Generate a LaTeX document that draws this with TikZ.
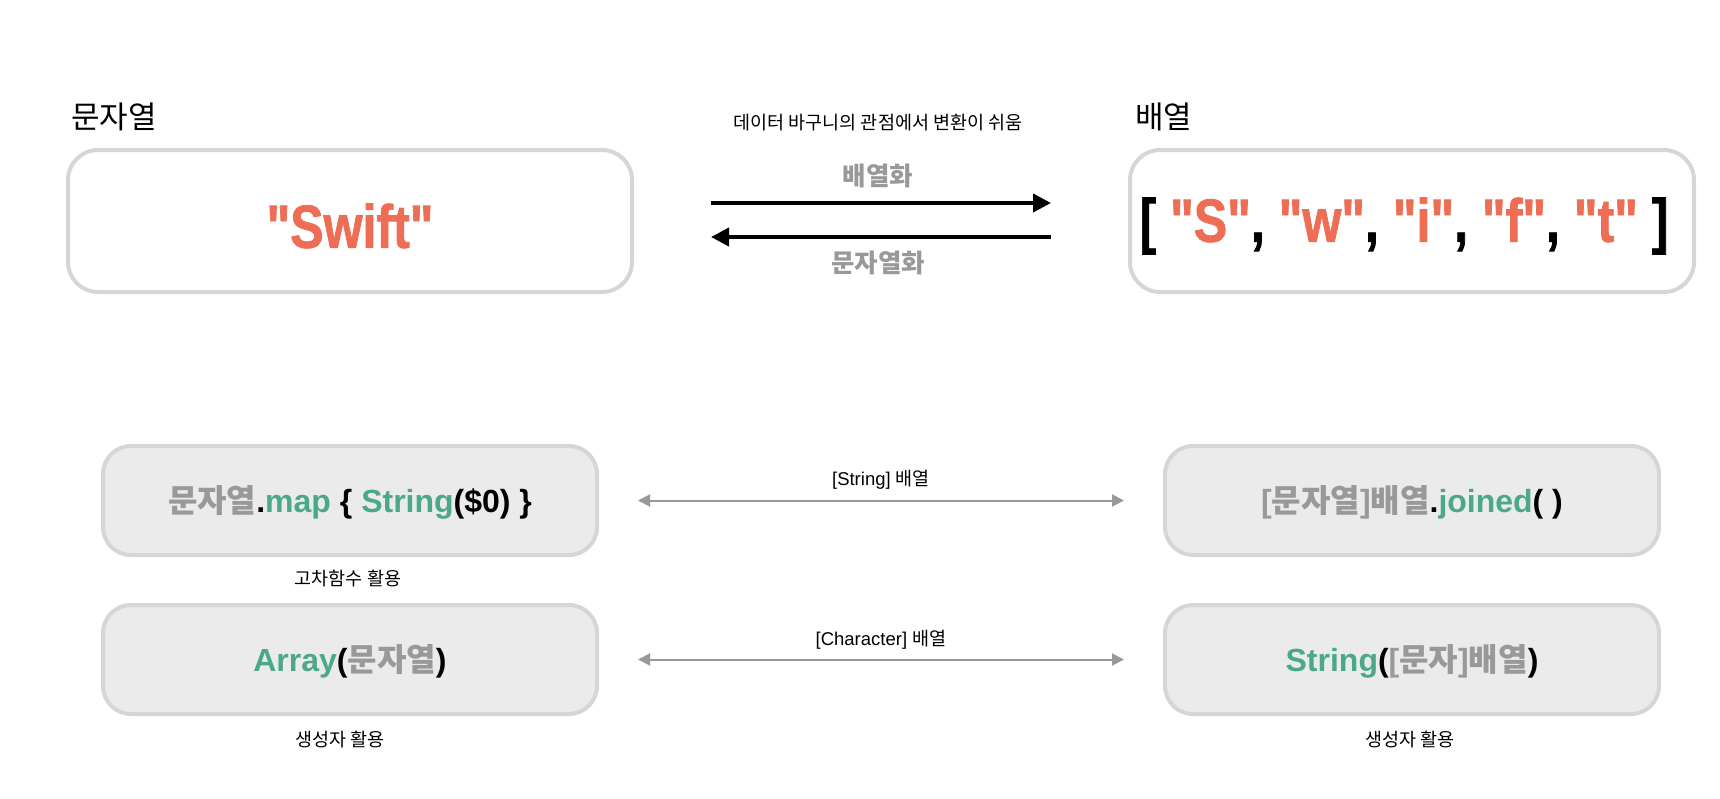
\documentclass[tikz,border=0pt]{standalone}
\usepackage{fontspec}
\setmainfont{Liberation Sans}
\newfontfamily\kr{Noto Sans CJK KR}
\newfontfamily\condfont[FakeStretch=0.82,FakeBold=1.2]{Liberation Sans Bold}
\usetikzlibrary{arrows.meta}
\definecolor{orng}{HTML}{EE6D55}
\definecolor{grn}{HTML}{4BA98A}
\definecolor{txtgray}{HTML}{999999}
\definecolor{bordc}{HTML}{D6D6D6}
\definecolor{boxfill}{HTML}{EBEBEB}
\definecolor{arrgray}{HTML}{999999}
\begin{document}
\begin{tikzpicture}[x=1pt,y=-1pt,
  topbox/.style={draw=bordc,line width=4pt,rounded corners=30pt,minimum width=564pt,minimum height=142pt,fill=white,inner sep=0pt},
  lowbox/.style={draw=bordc,line width=4pt,rounded corners=28pt,minimum width=494pt,minimum height=109pt,fill=boxfill,inner sep=0pt},
  bigtext/.style={font=\condfont\fontsize{61}{70}\selectfont},
  codetext/.style={font=\bfseries\fontsize{32}{38}\selectfont},
  toplabel/.style={font=\kr\fontsize{31}{36}\selectfont,anchor=west,inner sep=0pt},
  smalllabel/.style={font=\fontsize{18.5}{22}\selectfont,inner sep=0pt},
  krsmall/.style={font=\kr\fontsize{18.5}{22}\selectfont,inner sep=0pt},
  arrlabel/.style={font=\kr\bfseries\fontsize{25.5}{30}\selectfont,text=txtgray,inner sep=0pt},
  blackarrow/.style={line width=4pt,-{Triangle[length=18pt,width=18pt]},shorten <=77pt,shorten >=77pt},
  grayarrow/.style={draw=arrgray,line width=2pt,{Triangle[length=12pt,width=12pt]}-{Triangle[length=12pt,width=12pt]},shorten <=39pt,shorten >=39pt}
]
\useasboundingbox (0,0) rectangle (1720,798);

% top labels
\node[toplabel] (lstr) at (71,117) {문자열};
\node[toplabel] (larr) at (1135,117) {배열};

% top boxes
\node[topbox] (s) at (350,221) {};
\node[bigtext,text=orng] (swift) at (350,226) {"Swift"};
\node[topbox] (a) at (1412,221) {};
\node[bigtext] (arr) at (1404,226) {[ \textcolor{orng}{"S"}, \textcolor{orng}{"w"}, \textcolor{orng}{"i"}, \textcolor{orng}{"f"}, \textcolor{orng}{"t"} ]};

% middle
\node[krsmall] (hdr) at (878,123) {데이터 바구니의 관점에서 변환이 쉬움};
\node[arrlabel] (ser) at (878,176) {배열화};
\node[arrlabel] (deser) at (878,263) {문자열화};
\draw[blackarrow] ([yshift=18pt]s.east) -- ([yshift=18pt]a.west);
\draw[blackarrow] ([yshift=-16pt]a.west) -- ([yshift=-16pt]s.east);

% bottom boxes
\node[lowbox] (b1) at (350,500.5) {};
\node[codetext] (t1) at (350,502) {{\kr\color{txtgray}문자열}.\textcolor{grn}{map} \{ \textcolor{grn}{String}(\$0) \}};
\node[lowbox] (b2) at (1412,500.5) {};
\node[codetext] (t2) at (1412,502) {\textcolor{txtgray}{[{\kr 문자열}]{\kr 배열}}.\textcolor{grn}{joined}( )};
\node[lowbox] (b3) at (350,659.5) {};
\node[codetext] (t3) at (350,661) {\textcolor{grn}{Array}({\kr\color{txtgray}문자열})};
\node[lowbox] (b4) at (1412,659.5) {};
\node[codetext] (t4) at (1412,661) {\textcolor{grn}{String}(\textcolor{txtgray}{[{\kr 문자}]{\kr 배열}})};

\draw[grayarrow] (b1.east) -- (b2.west);
\draw[grayarrow] (b3.east) -- (b4.west);
\node[smalllabel] (l1) at (881,480) {[String] {\kr 배열}};
\node[smalllabel] (l2) at (881,640) {[Character] {\kr 배열}};

% captions
\node[krsmall] (c1) at (348,578) {고차함수 활용};
\node[krsmall] (c2) at (340,739) {생성자 활용};
\node[krsmall] (c3) at (1410,739) {생성자 활용};
\end{tikzpicture}
\end{document}
